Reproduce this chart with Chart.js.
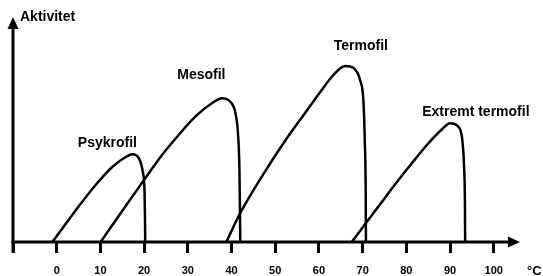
<!DOCTYPE html>
<html><head><meta charset="utf-8">
<script src="https://cdn.jsdelivr.net/npm/chart.js@4"></script>
<style>html,body{margin:0;padding:0;background:#fff}#wrap{width:543px;height:276px}</style>
</head><body><div id="wrap"><canvas id="c" width="543" height="276"></canvas></div>
<script>
// ---- data ----
const seriesNames = ['Psykrofil', 'Mesofil', 'Termofil', 'Extremt termofil'];
const psykrofilX = [-1.0, 5.1, 8.9, 12.7, 15.8, 17.3, 18.8, 19.7, 20.1, 20.2, 20.25];
const psykrofilY = [0, 36, 57, 75, 85, 87.7, 83.7, 70, 50, 23, 0];
const mesofilX = [10.05, 12.7, 16.5, 20.3, 24.1, 27.9, 31.7, 35.5, 37.8, 39.7, 40.9, 41.5, 41.8, 41.9, 42.0];
const mesofilY = [0, 16.8, 40.5, 64, 87, 107, 125.3, 138.7, 143.7, 140.3, 128.7, 107, 73.7, 40.3, 0];
const termofilX = [38.8, 42, 48.9, 52.7, 56.5, 60.3, 63.3, 66, 67.9, 69.4, 70.2, 70.5, 70.7, 70.75];
const termofilY = [0, 29, 79, 104, 127, 150, 167, 176, 174, 162, 139, 99, 49, 0];
const extremX = [67.5, 70.5, 73.6, 77.4, 81.2, 85, 88.1, 90, 91.9, 92.8, 93.2, 93.4, 93.45];
const extremY = [0, 17.5, 35.5, 57.5, 78.5, 98.5, 112.5, 118.7, 115.3, 102, 75.3, 38.7, 0];
const tickValues = [0, 10, 20, 30, 40, 50, 60, 70, 80, 90, 100];
const tickLabels = ['0', '10', '20', '30', '40', '50', '60', '70', '80', '90', '100'];
const axisTitleY = 'Aktivitet';
const axisUnitX = '°C';
const labelX = [11.6, 33.1, 69.6, 95.9];
const labelY = [99, 167, 196, 130];

const X_MIN = -10, X_MAX = 106, Y_MAX = 225;
const FONT = 'Arial, "Liberation Sans", Helvetica, sans-serif';

function zip(xs, ys) { return xs.map((v, i) => ({ x: v, y: ys[i] })); }
const allX = [psykrofilX, mesofilX, termofilX, extremX];
const allY = [psykrofilY, mesofilY, termofilY, extremY];

const axesPlugin = {
  id: 'axesArrows',
  beforeDatasetsDraw(chart) {
    const { ctx, scales: { x, y } } = chart;
    const x0 = x.getPixelForValue(X_MIN), y0 = y.getPixelForValue(0);
    const xEnd = x.getPixelForValue(X_MAX), yEnd = y.getPixelForValue(Y_MAX);
    ctx.save();
    ctx.strokeStyle = '#000'; ctx.fillStyle = '#000'; ctx.lineWidth = 3;
    ctx.beginPath(); ctx.moveTo(x0 - 1.5, y0); ctx.lineTo(xEnd - 8, y0); ctx.stroke();
    ctx.beginPath(); ctx.moveTo(xEnd, y0); ctx.lineTo(xEnd - 12, y0 - 5.5); ctx.lineTo(xEnd - 12, y0 + 5.5); ctx.closePath(); ctx.fill();
    ctx.beginPath(); ctx.moveTo(x0, y0 + 11); ctx.lineTo(x0, yEnd + 8); ctx.stroke();
    ctx.beginPath(); ctx.moveTo(x0, yEnd); ctx.lineTo(x0 - 5.5, yEnd + 12); ctx.lineTo(x0 + 5.5, yEnd + 12); ctx.closePath(); ctx.fill();
    ctx.restore();
  },
  afterDatasetsDraw(chart) {
    const { ctx, scales: { x, y } } = chart;
    const x0 = x.getPixelForValue(X_MIN), y0 = y.getPixelForValue(0);
    const xEnd = x.getPixelForValue(X_MAX), yEnd = y.getPixelForValue(Y_MAX);
    ctx.save();
    ctx.fillStyle = '#000';
    ctx.font = 'bold 14px ' + FONT;
    ctx.textAlign = 'center'; ctx.textBaseline = 'middle';
    seriesNames.forEach((n, i) => ctx.fillText(n, x.getPixelForValue(labelX[i]), y.getPixelForValue(labelY[i])));
    ctx.textAlign = 'left';
    ctx.fillText(axisTitleY, x0 + 7, yEnd);
    ctx.font = 'bold 13px ' + FONT;
    ctx.fillText(axisUnitX, xEnd + 7, y0 + 29);
    ctx.restore();
  }
};

new Chart(document.getElementById('c'), {
  type: 'scatter',
  data: {
    datasets: seriesNames.map((n, i) => ({
      label: n,
      data: zip(allX[i], allY[i]),
      showLine: true,
      borderColor: '#000',
      borderWidth: 2.5,
      pointRadius: 0,
      cubicInterpolationMode: 'monotone',
      tension: 0.4,
      fill: false,
      clip: false
    }))
  },
  options: {
    responsive: false,
    animation: false,
    devicePixelRatio: 1,
    layout: { padding: { left: 13, right: 23, top: 17, bottom: 0 } },
    plugins: { legend: { display: false }, tooltip: { enabled: false } },
    scales: {
      x: {
        type: 'linear', min: X_MIN, max: X_MAX,
        afterBuildTicks(s) { s.ticks = [X_MIN].concat(tickValues).map(v => ({ value: v })); },
        afterFit(s) { s.height = 34; },
        border: { display: false },
        grid: { drawOnChartArea: false, drawTicks: true, tickLength: 11, tickWidth: 3, tickColor: '#000' },
        ticks: {
          autoSkip: false, maxRotation: 0, padding: 11, color: '#000',
          font: { family: FONT, size: 11, weight: 'bold' },
          callback(v) { const k = tickValues.indexOf(v); return k >= 0 ? tickLabels[k] : ''; }
        }
      },
      y: { type: 'linear', min: 0, max: Y_MAX, display: false }
    }
  },
  plugins: [axesPlugin]
});
</script>
</body></html>
